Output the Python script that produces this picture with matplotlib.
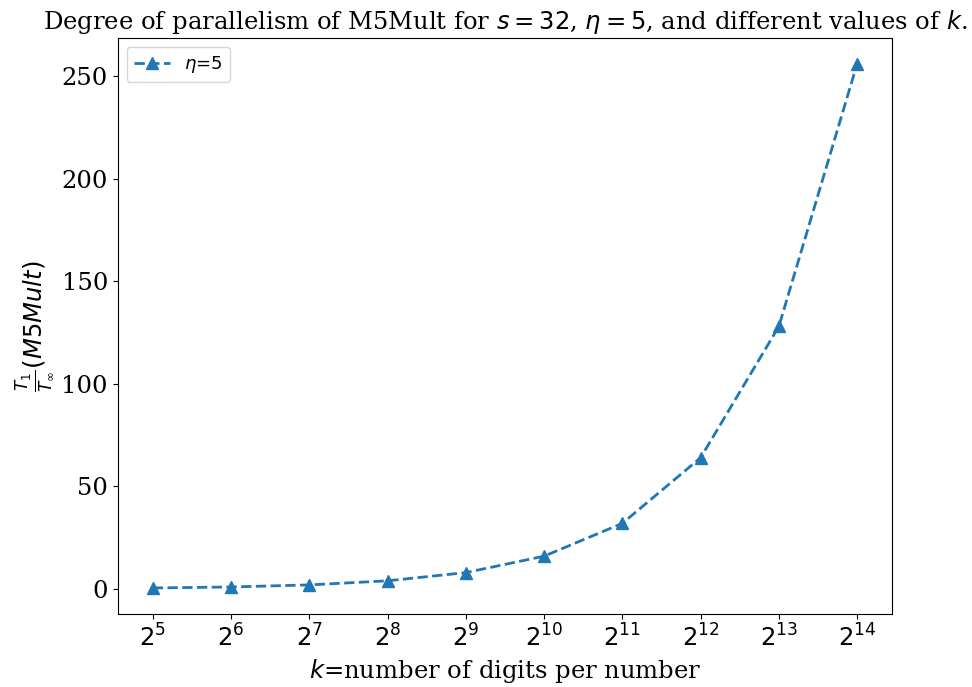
import numpy as np
import matplotlib
matplotlib.use("Agg")
import matplotlib.pyplot as plt

plt.rcParams['font.family'] = 'serif'

exponents = [5, 6, 7, 8, 9, 10, 11, 12, 13, 14]
tick_labels = [f"$2^{{{e}}}$" for e in exponents]
parallelism = [0.5, 1, 2, 4, 8, 16, 32, 64, 128, 256]

fig, ax = plt.subplots(figsize=(9.72, 6.87), dpi=100)
x = np.arange(len(exponents))
ax.plot(x, parallelism, '--^', color='#1f77b4', linewidth=2, markersize=9, label=r'$\eta$=5')
ax.set_xticks(x)
ax.set_xticklabels(tick_labels, fontsize=17.5)
ax.tick_params(axis='y', labelsize=17.5)
ax.set_xlabel(r'$k$=number of digits per number', fontsize=17.5)
ax.set_ylabel(r'$\frac{T_1}{T_\infty}(M5Mult)$', fontsize=17.5)
ax.set_title(r'Degree of parallelism of M5Mult for $s=32$, $\eta=5$, and different values of $k$.', fontsize=17.5)
ax.legend(loc='upper left', prop={'family': 'sans-serif', 'size': 13})
fig.subplots_adjust(left=0.121, right=0.918, top=0.945, bottom=0.106)
fig.savefig('out.png', dpi=100)
